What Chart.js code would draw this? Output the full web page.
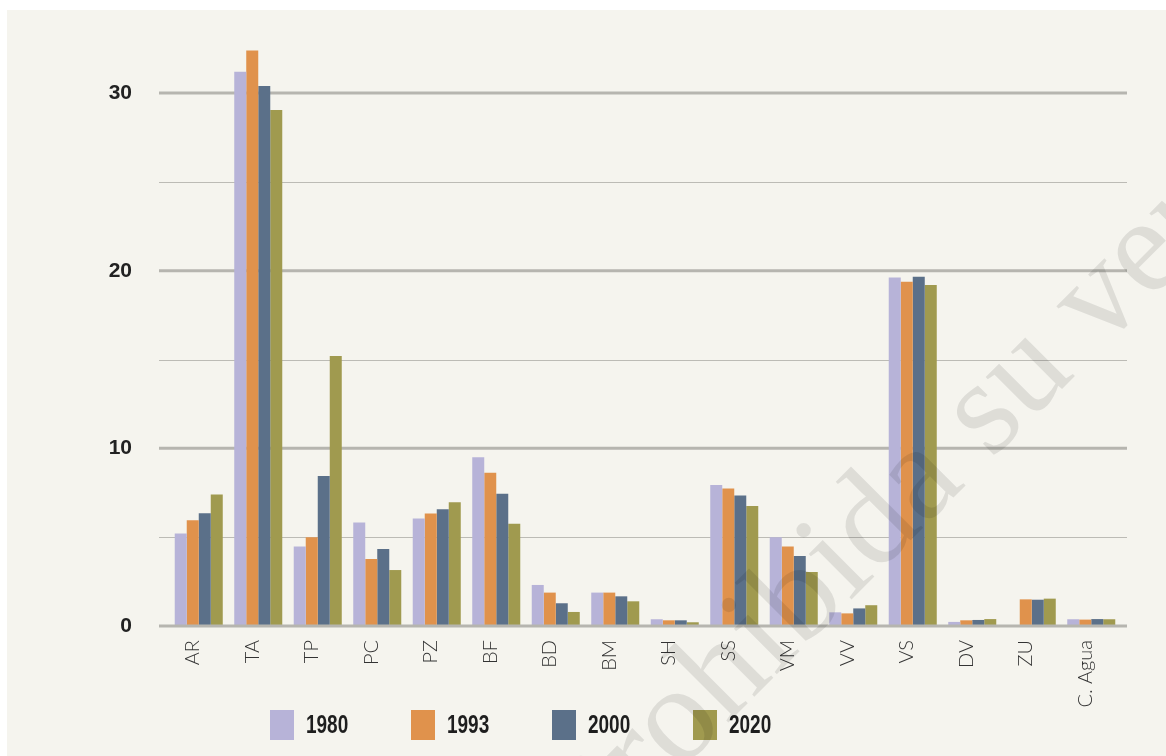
<!DOCTYPE html>
<html><head><meta charset="utf-8">
<script src="https://cdn.jsdelivr.net/npm/chart.js@4"></script>
<style>
html,body{margin:0;padding:0;background:#ffffff;overflow:hidden;}
#wrap{position:absolute;left:0;top:0;width:1166px;height:756px;}
#panel{position:absolute;left:7px;top:10px;width:1159px;height:746px;background:#f5f4ee;}
canvas{position:absolute;left:0;top:0;}
</style></head><body>
<div id="wrap"><div id="panel"></div><canvas id="c" width="1166" height="756"></canvas></div>
<script>
const categories = ['AR','TA','TP','PC','PZ','BF','BD','BM','SH','SS','VM','VV','VS','DV','ZU','C. Agua'];
const seriesNames = ['1980','1993','2000','2020'];
const v1980 = [5.2, 31.2, 4.47, 5.82, 6.05, 9.5, 2.31, 1.88, 0.38, 7.94, 5.0, 0.77, 19.62, 0.23, 0, 0.38];
const v1993 = [5.95, 32.4, 5.0, 3.77, 6.33, 8.62, 1.88, 1.88, 0.32, 7.74, 4.47, 0.71, 19.38, 0.32, 1.5, 0.36];
const v2000 = [6.35, 30.4, 8.45, 4.34, 6.57, 7.44, 1.28, 1.67, 0.32, 7.34, 3.94, 0.99, 19.66, 0.34, 1.48, 0.39];
const v2020 = [7.4, 29.05, 15.2, 3.15, 6.97, 5.76, 0.79, 1.39, 0.21, 6.76, 3.04, 1.17, 19.19, 0.39, 1.54, 0.38];
const yTickLabels = ['0','10','20','30'];
const colors = ['#b7b3d8','#e0924c','#5b7089','#a09a4f'];
const watermarkText = 'Prohibida su venta';

const boldFamily = "'Liberation Sans',Arimo,Arial,sans-serif";

function drawGrid(chart, zeroOnly){
  const {ctx, chartArea:a, scales:{y}} = chart;
  const x0 = a.left - 10, x1 = a.right + 6;
  y.ticks.forEach(t => {
    if (t.value % 5 !== 0) return;
    if (zeroOnly !== (t.value === 0)) return;
    const major = t.value % 10 === 0;
    let py = y.getPixelForValue(t.value);
    if (!major) py = Math.round(py) + 0.5;
    ctx.save();
    ctx.strokeStyle = major ? '#b6b5af' : '#bcbbb5';
    ctx.lineWidth = major ? 3 : 1;
    ctx.beginPath(); ctx.moveTo(x0, py); ctx.lineTo(x1, py); ctx.stroke();
    ctx.restore();
  });
}
const gridPlugin = {
  id: 'extGrid',
  beforeDatasetsDraw(chart){ drawGrid(chart, false); },
  afterDatasetsDraw(chart){ drawGrid(chart, true); }
};
const legendPlugin = {
  id: 'boxLegend',
  afterDraw(chart){
    const ctx = chart.ctx;
    chart.data.datasets.forEach((ds, i) => {
      const bx = 270 + i * 141, by = 710;
      ctx.save();
      ctx.fillStyle = ds.backgroundColor;
      ctx.fillRect(bx, by, 24, 30);
      ctx.fillStyle = '#1e1e1e';
      ctx.font = "bold 26px " + boldFamily;
      ctx.textBaseline = 'middle';
      ctx.textAlign = 'left';
      ctx.translate(bx + 36, by + 16);
      ctx.scale(0.73, 1);
      ctx.fillText(ds.label, 0, 0);
      ctx.restore();
    });
  }
};
const watermarkPlugin = {
  id: 'watermark',
  afterDraw(chart){
    const ctx = chart.ctx;
    ctx.save();
    ctx.translate(593, 858);
    ctx.rotate(-Math.PI / 4);
    ctx.font = "136px 'Liberation Serif','DejaVu Serif',serif";
    ctx.fillStyle = 'rgba(0,0,0,0.095)';
    ctx.textBaseline = 'alphabetic';
    ctx.textAlign = 'left';
    ctx.fillText(watermarkText, 0, 0);
    ctx.restore();
  }
};

const seriesValues = [v1980, v1993, v2000, v2020];
new Chart(document.getElementById('c'), {
  type: 'bar',
  data: {
    labels: categories,
    datasets: seriesNames.map((n, i) => ({
      label: n, data: seriesValues[i], backgroundColor: colors[i], borderWidth: 0
    }))
  },
  options: {
    responsive: false,
    animation: false,
    layout: { padding: { left: 0, right: 45, top: 22, bottom: 0 } },
    plugins: { legend: { display: false }, tooltip: { enabled: false } },
    datasets: { bar: { categoryPercentage: 0.807, barPercentage: 1 } },
    scales: {
      x: {
        grid: { display: false, drawTicks: false },
        border: { display: false },
        ticks: { maxRotation: 90, minRotation: 90, autoSkip: false, padding: 14, labelOffset: -6, color: '#333333',
                 font: { family: "Lato,'Open Sans',sans-serif", weight: '300', size: 20 } },
        afterFit(s){ s.height = 130; }
      },
      y: {
        min: 0, max: 34,
        grid: { display: false, drawTicks: false },
        border: { display: false },
        ticks: { stepSize: 5, padding: 37, color: '#222222',
                 font: { family: boldFamily, weight: 'bold', size: 21 },
                 callback: (v) => yTickLabels.includes(String(v)) ? String(v) : '' },
        afterFit(s){ s.width = 169; s.paddingTop = 0; s.paddingBottom = 0; }
      }
    }
  },
  plugins: [gridPlugin, legendPlugin, watermarkPlugin]
});
</script>
</body></html>
